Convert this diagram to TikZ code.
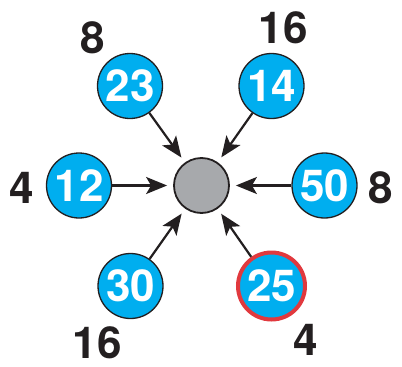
\documentclass[tikz,border=0pt]{standalone}
\usepackage{fontspec}
\setmainfont{TeX Gyre Heros}
\usetikzlibrary{arrows.meta}
\definecolor{leaf-blue}{HTML}{00AEEF}
\definecolor{hub-gray}{HTML}{A7A9AC}
\definecolor{ring-red}{HTML}{E1393E}
\definecolor{ink}{HTML}{231F20}

\begin{document}
\begin{tikzpicture}[x=1pt,y=-1pt,
    leaf/.style={circle,draw=ink,line width=1.3pt,fill=leaf-blue,minimum size=65pt,inner sep=0pt,
                 text=white,font=\fontsize{44}{44}\selectfont\bfseries},
    marked/.style={leaf,draw=ring-red,line width=4pt,minimum size=67pt},
    lbl/.style={font=\fontsize{44}{44}\selectfont\bfseries,text=ink,inner sep=0pt},
    feed/.style={-{Stealth[length=21pt,width=17pt,inset=5pt]},line width=2.2pt,draw=ink,shorten >=6pt}]
  \useasboundingbox (0,0) rectangle (402,367);
  \node[circle,draw=ink,line width=1.8pt,fill=hub-gray,minimum size=55pt,inner sep=0pt] (hub) at (201.5,185.5) {};
  \foreach \v/\p/\s/\w/\q in {23/{130,86}/leaf/8/{93,38}, 14/{271.5,86}/leaf/16/{283,28},
                              12/{79,185.5}/leaf/4/{22,188}, 50/{324.5,185.5}/leaf/8/{381,188},
                              30/{130.5,286}/leaf/16/{97,343}, 25/{271.5,286}/marked/4/{306,340}}{
    \node[\s] (n\v) at (\p) {\v};
    \node[lbl] (w\v) at (\q) {\w};
    \draw[feed] (n\v) -- (hub);
  }
\end{tikzpicture}
\end{document}
